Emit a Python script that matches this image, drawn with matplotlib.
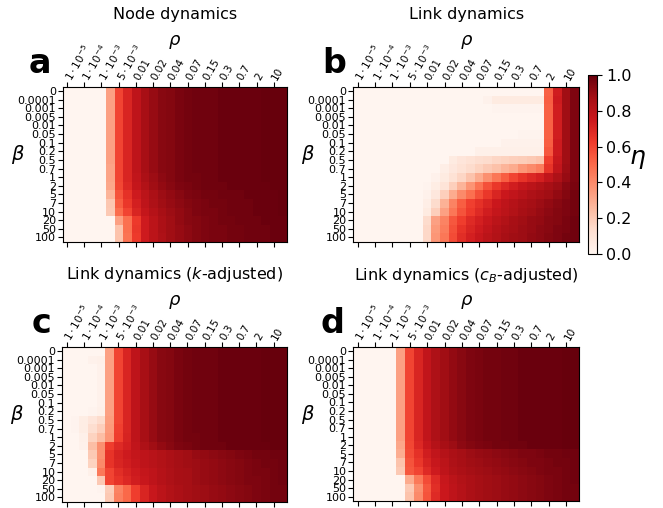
import numpy as np
import matplotlib
matplotlib.use('Agg')
import matplotlib.pyplot as plt

# axis labels
rho_labels = [r'$1\cdot10^{-5}$', r'$1\cdot10^{-4}$', r'$1\cdot10^{-3}$', r'$5\cdot10^{-3}$',
              '0.01', '0.02', '0.04', '0.07', '0.15', '0.3', '0.7', '2', '10']
beta_labels = ['0', '0.0001', '0.001', '0.005', '0.01', '0.05', '0.1', '0.2', '0.5', '0.7',
               '1', '2', '5', '7', '10', '20', '50', '100']
titles = ['Node dynamics', 'Link dynamics', r'Link dynamics ($k$-adjusted)',
          r'Link dynamics ($c_B$-adjusted)']
letters = ['a', 'b', 'c', 'd']

# eta values (rows = beta, cols = rho grid of 26 points)
eta_node = [
    [0, 0, 0, 0, 0, .33, .60, .70, .79, .86, .90, .93, .94, .96, .97, .98, .98, .98, .99, .99, .99, .99, .99, 1, 1, 1],
    [0, 0, 0, 0, 0, .33, .60, .70, .79, .86, .90, .93, .94, .96, .97, .98, .98, .98, .99, .99, .99, .99, .99, 1, 1, 1],
    [0, 0, 0, 0, 0, .33, .60, .70, .79, .86, .90, .93, .94, .96, .97, .98, .98, .98, .99, .99, .99, .99, .99, 1, 1, 1],
    [0, 0, 0, 0, 0, .33, .60, .70, .79, .86, .90, .93, .94, .96, .97, .98, .98, .98, .99, .99, .99, .99, .99, 1, 1, 1],
    [0, 0, 0, 0, 0, .33, .60, .70, .79, .86, .90, .93, .94, .96, .97, .98, .98, .98, .99, .99, .99, .99, .99, 1, 1, 1],
    [0, 0, 0, 0, 0, .33, .60, .70, .79, .86, .90, .93, .94, .96, .97, .98, .98, .98, .99, .99, .99, .99, .99, 1, 1, 1],
    [0, 0, 0, 0, 0, .33, .60, .70, .79, .86, .90, .93, .94, .96, .97, .98, .98, .98, .99, .99, .99, .99, .99, 1, 1, 1],
    [0, 0, 0, 0, 0, .33, .60, .70, .79, .86, .90, .93, .94, .96, .97, .98, .98, .98, .99, .99, .99, .99, .99, 1, 1, 1],
    [0, 0, 0, 0, 0, .33, .60, .70, .79, .86, .90, .93, .94, .96, .97, .98, .98, .98, .99, .99, .99, .99, .99, 1, 1, 1],
    [0, 0, 0, 0, 0, .32, .60, .70, .79, .86, .90, .93, .94, .96, .97, .98, .98, .98, .99, .99, .99, .99, .99, 1, 1, 1],
    [0, 0, 0, 0, 0, .32, .60, .70, .78, .85, .89, .92, .94, .96, .97, .97, .98, .98, .99, .99, .99, .99, .99, 1, 1, 1],
    [0, 0, 0, 0, 0, .31, .59, .69, .77, .83, .88, .91, .93, .95, .96, .97, .98, .98, .98, .99, .99, .99, .99, .99, 1, 1],
    [0, 0, 0, 0, 0, .27, .56, .66, .74, .80, .85, .89, .91, .93, .95, .96, .97, .97, .98, .98, .98, .99, .99, .99, .99, 1],
    [0, 0, 0, 0, 0, .21, .53, .64, .72, .79, .84, .88, .90, .92, .94, .95, .96, .97, .97, .98, .98, .98, .99, .99, .99, 1],
    [0, 0, 0, 0, 0, .20, .49, .60, .70, .77, .82, .86, .89, .91, .93, .95, .96, .96, .97, .98, .98, .98, .99, .99, .99, 1],
    [0, 0, 0, 0, 0, 0, .33, .48, .63, .74, .80, .85, .88, .91, .93, .94, .95, .96, .97, .97, .98, .98, .98, .99, .99, .99],
    [0, 0, 0, 0, 0, 0, .22, .48, .64, .74, .80, .85, .88, .90, .92, .94, .95, .96, .96, .97, .97, .98, .98, .98, .99, .99],
    [0, 0, 0, 0, 0, 0, .22, .47, .63, .74, .80, .84, .88, .90, .92, .94, .95, .96, .96, .97, .97, .98, .98, .98, .99, .99],
]

eta_link = [
    [0, 0, 0, 0, 0, 0, 0, 0, 0, 0, 0, 0, 0, 0, 0, 0, 0, 0, 0, 0, 0, 0, .52, .73, .88, .95],
    [0, 0, 0, 0, 0, 0, 0, 0, 0, 0, 0, 0, 0, 0, 0, .02, .06, .06, .06, .06, .06, .06, .53, .74, .88, .95],
    [0, 0, 0, 0, 0, 0, 0, 0, 0, 0, 0, 0, 0, 0, 0, 0, .01, .01, .01, .01, .01, .01, .52, .73, .88, .95],
    [0, 0, 0, 0, 0, 0, 0, 0, 0, 0, 0, 0, 0, 0, 0, 0, 0, 0, 0, 0, 0, 0, .52, .73, .88, .95],
    [0, 0, 0, 0, 0, 0, 0, 0, 0, 0, 0, 0, 0, 0, 0, 0, 0, 0, 0, 0, 0, 0, .52, .73, .88, .95],
    [0, 0, 0, 0, 0, 0, 0, 0, 0, 0, 0, 0, 0, 0, 0, 0, 0, 0, 0, .01, .01, .01, .52, .73, .88, .95],
    [0, 0, 0, 0, 0, 0, 0, 0, 0, 0, 0, 0, 0, 0, 0, 0, 0, .02, .02, .02, .02, .02, .53, .74, .88, .95],
    [0, 0, 0, 0, 0, 0, 0, 0, 0, 0, 0, 0, 0, 0, .03, .03, .03, .03, .03, .03, .03, .03, .55, .74, .88, .95],
    [0, 0, 0, 0, 0, 0, 0, 0, 0, 0, 0, .06, .09, .11, .13, .14, .16, .17, .18, .19, .20, .22, .62, .76, .88, .95],
    [0, 0, 0, 0, 0, 0, 0, 0, 0, 0, .04, .08, .11, .14, .17, .20, .23, .27, .30, .36, .40, .44, .65, .78, .89, .95],
    [0, 0, 0, 0, 0, 0, 0, 0, 0, .02, .06, .11, .16, .22, .30, .38, .46, .53, .60, .65, .69, .72, .78, .84, .90, .95],
    [0, 0, 0, 0, 0, 0, 0, 0, .01, .05, .10, .18, .27, .37, .47, .57, .64, .69, .73, .77, .80, .83, .86, .89, .93, .96],
    [0, 0, 0, 0, 0, 0, 0, 0, .02, .08, .18, .30, .40, .48, .57, .64, .70, .75, .78, .81, .84, .86, .88, .91, .94, .97],
    [0, 0, 0, 0, 0, 0, 0, 0, .04, .14, .28, .42, .53, .61, .66, .70, .75, .79, .82, .85, .87, .89, .91, .93, .95, .97],
    [0, 0, 0, 0, 0, 0, 0, 0, .06, .18, .33, .46, .56, .63, .68, .73, .77, .80, .83, .86, .88, .90, .92, .94, .95, .97],
    [0, 0, 0, 0, 0, 0, 0, 0, .14, .33, .42, .55, .62, .68, .72, .76, .80, .83, .86, .88, .90, .91, .93, .94, .96, .98],
    [0, 0, 0, 0, 0, 0, 0, 0, .15, .35, .44, .57, .65, .70, .74, .78, .82, .85, .87, .89, .90, .92, .93, .95, .96, .98],
    [0, 0, 0, 0, 0, 0, 0, 0, .15, .36, .46, .58, .67, .72, .76, .80, .83, .86, .88, .89, .91, .92, .94, .95, .97, .98],
]

eta_link_k = [
    [0, 0, 0, 0, 0, .33, .60, .70, .79, .86, .90, .93, .94, .96, .97, .98, .98, .98, .99, .99, .99, .99, .99, 1, 1, 1],
    [0, 0, 0, .02, .03, .33, .60, .70, .79, .86, .90, .93, .94, .96, .97, .98, .98, .98, .99, .99, .99, .99, .99, 1, 1, 1],
    [0, 0, 0, 0, .02, .33, .60, .70, .79, .86, .90, .93, .94, .96, .97, .98, .98, .98, .99, .99, .99, .99, .99, 1, 1, 1],
    [0, 0, 0, 0, .02, .33, .60, .70, .79, .86, .90, .93, .94, .96, .97, .98, .98, .98, .99, .99, .99, .99, .99, 1, 1, 1],
    [0, 0, 0, 0, .02, .33, .60, .70, .79, .86, .90, .93, .94, .96, .97, .98, .98, .98, .99, .99, .99, .99, .99, 1, 1, 1],
    [0, 0, 0, 0, .02, .33, .60, .70, .79, .86, .90, .93, .94, .96, .97, .98, .98, .98, .99, .99, .99, .99, .99, 1, 1, 1],
    [0, 0, 0, 0, .02, .33, .60, .70, .79, .86, .90, .93, .94, .96, .97, .98, .98, .98, .99, .99, .99, .99, .99, 1, 1, 1],
    [0, 0, 0, .01, .03, .33, .60, .70, .79, .86, .90, .93, .94, .96, .97, .98, .98, .98, .99, .99, .99, .99, .99, 1, 1, 1],
    [0, .01, .05, .09, .14, .34, .60, .70, .79, .86, .90, .93, .94, .96, .97, .98, .98, .98, .99, .99, .99, .99, .99, 1, 1, 1],
    [0, .01, .05, .13, .18, .35, .61, .70, .79, .86, .90, .93, .94, .96, .97, .98, .98, .98, .99, .99, .99, .99, .99, 1, 1, 1],
    [0, 0, .03, .17, .24, .36, .62, .71, .79, .86, .90, .93, .94, .96, .97, .97, .98, .98, .99, .99, .99, .99, .99, 1, 1, 1],
    [0, 0, .02, .24, .38, .62, .68, .72, .78, .84, .88, .91, .93, .95, .96, .97, .98, .98, .98, .99, .99, .99, .99, .99, 1, 1],
    [0, 0, 0, .20, .38, .65, .71, .74, .77, .79, .81, .83, .85, .87, .88, .90, .91, .92, .93, .94, .95, .96, .97, .97, .98, .98],
    [0, 0, 0, .17, .40, .65, .70, .73, .76, .79, .81, .83, .85, .87, .88, .89, .90, .91, .92, .93, .94, .95, .96, .97, .97, .98],
    [0, 0, 0, .03, .45, .60, .67, .71, .74, .77, .79, .82, .84, .86, .87, .89, .90, .91, .92, .93, .94, .95, .96, .96, .97, .98],
    [0, 0, 0, 0, .20, .60, .65, .69, .73, .76, .79, .82, .84, .86, .87, .89, .90, .91, .92, .93, .94, .95, .95, .96, .97, .98],
    [0, 0, 0, 0, .01, .19, .42, .50, .62, .70, .76, .80, .83, .85, .87, .88, .89, .90, .91, .92, .93, .94, .95, .96, .97, .97],
    [0, 0, 0, 0, 0, .20, .43, .50, .62, .70, .76, .80, .83, .85, .87, .88, .89, .90, .91, .92, .93, .94, .95, .96, .97, .97],
]

eta_link_cb = [
    [0, 0, 0, 0, 0, .33, .60, .70, .78, .84, .88, .91, .93, .95, .96, .97, .97, .98, .98, .99, .99, .99, .99, .99, 1, 1],
    [0, 0, 0, 0, 0, .33, .60, .70, .78, .84, .88, .91, .93, .95, .96, .97, .97, .98, .98, .99, .99, .99, .99, .99, 1, 1],
    [0, 0, 0, 0, 0, .33, .60, .70, .78, .84, .88, .91, .93, .95, .96, .97, .97, .98, .98, .99, .99, .99, .99, .99, 1, 1],
    [0, 0, 0, 0, 0, .33, .60, .70, .78, .84, .88, .91, .93, .95, .96, .97, .97, .98, .98, .99, .99, .99, .99, .99, 1, 1],
    [0, 0, 0, 0, 0, .33, .60, .70, .78, .84, .88, .91, .93, .95, .96, .97, .97, .98, .98, .99, .99, .99, .99, .99, 1, 1],
    [0, 0, 0, 0, 0, .33, .60, .70, .78, .84, .88, .91, .93, .95, .96, .97, .97, .98, .98, .99, .99, .99, .99, .99, 1, 1],
    [0, 0, 0, 0, 0, .33, .60, .70, .78, .84, .88, .91, .93, .95, .96, .97, .97, .98, .98, .99, .99, .99, .99, .99, 1, 1],
    [0, 0, 0, 0, 0, .33, .60, .70, .78, .84, .88, .91, .93, .95, .96, .97, .97, .98, .98, .99, .99, .99, .99, .99, 1, 1],
    [0, 0, 0, 0, 0, .33, .60, .70, .78, .84, .88, .91, .93, .95, .96, .97, .97, .98, .98, .99, .99, .99, .99, .99, 1, 1],
    [0, 0, 0, 0, 0, .33, .60, .70, .78, .84, .88, .91, .93, .95, .96, .97, .97, .98, .98, .99, .99, .99, .99, .99, 1, 1],
    [0, 0, 0, 0, 0, .33, .60, .70, .78, .84, .88, .91, .93, .95, .96, .97, .97, .98, .98, .99, .99, .99, .99, .99, 1, 1],
    [0, 0, 0, 0, 0, .31, .59, .69, .76, .82, .86, .89, .92, .94, .95, .96, .97, .97, .98, .98, .99, .99, .99, .99, 1, 1],
    [0, 0, 0, 0, 0, .29, .58, .66, .73, .78, .82, .85, .87, .89, .90, .91, .92, .93, .94, .95, .95, .96, .97, .97, .98, .98],
    [0, 0, 0, 0, 0, .22, .56, .64, .71, .76, .80, .84, .86, .88, .89, .90, .91, .92, .93, .94, .95, .95, .96, .97, .97, .98],
    [0, 0, 0, 0, 0, .20, .55, .60, .68, .74, .79, .83, .85, .87, .88, .89, .90, .91, .92, .93, .94, .95, .96, .96, .97, .98],
    [0, 0, 0, 0, 0, 0, .30, .45, .58, .68, .76, .80, .83, .85, .87, .88, .89, .90, .91, .92, .93, .94, .95, .96, .97, .98],
    [0, 0, 0, 0, 0, 0, .20, .38, .55, .67, .75, .79, .82, .85, .87, .88, .89, .90, .91, .92, .93, .94, .95, .96, .97, .97],
    [0, 0, 0, 0, 0, 0, .22, .40, .56, .68, .75, .79, .82, .85, .87, .88, .89, .90, .91, .92, .93, .94, .95, .96, .97, .97],
]

panels = [eta_node, eta_link, eta_link_k, eta_link_cb]

W, H = 663, 508


def box(x0, y0, x1, y1):
    # pixel box (top-left origin) -> figure fraction
    return [x0 / W, 1 - y1 / H, (x1 - x0) / W, (y1 - y0) / H]


ax_boxes = [(62.7, 86.7, 286.7, 241.7), (353.3, 86.7, 579.3, 241.7),
            (62.3, 346.7, 286.7, 501.7), (353.3, 346.7, 579.3, 501.0)]
letter_pos = [(29, 73), (322, 73), (32, 333), (320, 333)]

fig = plt.figure(figsize=(6.63, 5.08), dpi=100)

for i in range(4):
    ax = fig.add_axes(box(*ax_boxes[i]))
    Z = np.array(panels[i])
    im = ax.imshow(Z, cmap='Reds', vmin=0, vmax=1, aspect='auto', interpolation='nearest')
    ax.set_xticks(np.arange(0, 26, 2))
    ax.set_xticklabels(rho_labels, rotation=60, ha='left', va='center_baseline',
                       rotation_mode='anchor', fontsize=7.5)
    ax.tick_params(axis='x', top=True, bottom=True, labeltop=True, labelbottom=False, pad=2)
    ax.xaxis.set_label_position('top')
    ax.set_xlabel(r'$\rho$', fontsize=13)
    ax.xaxis.set_label_coords(0.5, 1.27)
    ax.set_yticks(np.arange(18))
    ax.set_yticklabels(beta_labels, fontsize=8)
    ax.tick_params(axis='y', pad=1.5)
    ax.set_ylabel(r'$\beta$', rotation=0, fontsize=14, va='center', ha='center')
    ax.yaxis.set_label_coords(-0.2, 0.56)
    ax.set_title(titles[i], fontsize=11.5, y=1.435, pad=0, va='baseline')
    fig.text(letter_pos[i][0] / W, 1 - letter_pos[i][1] / H, letters[i],
             fontsize=24, fontweight='bold', va='baseline', ha='left')

cax = fig.add_axes(box(587.7, 75, 596.7, 254))
cb = fig.colorbar(im, cax=cax)
cb.set_ticks([0, 0.2, 0.4, 0.6, 0.8, 1.0])
cb.ax.tick_params(labelsize=11.5)
cb.set_label(r'$\eta$', rotation=0, fontsize=18, va='center', ha='center')
cax.yaxis.set_label_coords(5.5, 0.53)

fig.savefig('out.png', dpi=100)
